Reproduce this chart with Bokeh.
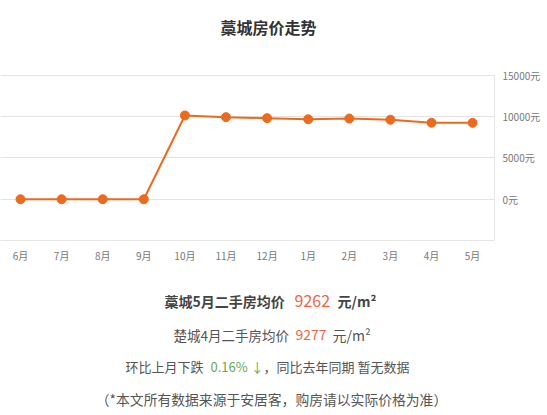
from bokeh.plotting import figure
from bokeh.layouts import column
from bokeh.models import Range1d, FixedTicker
from bokeh.core.properties import value
from bokeh.embed import file_html
from bokeh.resources import INLINE

months = ["6月", "7月", "8月", "9月", "10月", "11月", "12月", "1月", "2月", "3月", "4月", "5月"]
prices = [0, 0, 0, 0, 10150, 9950, 9830, 9700, 9780, 9640, 9277, 9262]
y_ticks = [-5000, 0, 5000, 10000, 15000]
y_tick_labels = ["", "0元", "5000元", "10000元", "15000元"]

title = "藁城房价走势"
current_text = ["藁城5月二手房均价", "9262", "元/m²"]
previous_text = ["楚城4月二手房均价", "9277", "元/m²"]
change_text = ["环比上月下跌", "0.16% ↓", "，同比去年同期 暂无数据"]
note_text = "（*本文所有数据来源于安居客，购房请以实际价格为准）"

FONT = "Noto Sans CJK SC"
ORANGE = "#ec6a1e"
RED = "#f0653f"
GREEN = "#6aa84f"
GREY = "#555555"
FRAME_W = 494
RIGHT = 53


def text_panel(height, top):
    # a blank figure whose data units are page pixels
    f = figure(frame_width=FRAME_W, frame_height=height, x_range=Range1d(0, FRAME_W),
               y_range=Range1d(top + height, top), output_backend="svg",
               toolbar_location=None, min_border=0, min_border_right=RIGHT)
    f.axis.visible = False
    f.grid.visible = False
    f.outline_line_color = None
    return f


def add_text(f, px, py, text, color=GREY, size="14px", style="normal", align="left"):
    f.text(x=[px], y=[py], text=[text], text_color=color, text_font=value(FONT),
           text_font_size=size, text_font_style=style, text_align=align,
           text_baseline="middle")


# title
t = text_panel(55, 0)
add_text(t, 268, 26, title, color="#333333", size="16px", style="bold", align="center")

# chart
x = list(range(len(months)))
p = figure(frame_width=FRAME_W, frame_height=166,
           x_range=Range1d(-0.487, 11.533), y_range=Range1d(-5000, 15120),
           y_axis_location="right", output_backend="svg", toolbar_location=None,
           min_border_left=0, min_border_right=RIGHT, min_border_top=19, min_border_bottom=30)
p.outline_line_color = None

p.xgrid.visible = False
p.ygrid.ticker = FixedTicker(ticks=y_ticks)
p.ygrid.grid_line_color = "#e3e3e3"

p.yaxis.ticker = FixedTicker(ticks=y_ticks)
p.yaxis.major_label_overrides = dict(zip(y_ticks, y_tick_labels))
p.yaxis.axis_line_color = "#e6e6e6"
p.yaxis.major_tick_line_color = None
p.yaxis.major_tick_out = 0
p.yaxis.minor_tick_line_color = None
p.yaxis.major_label_text_color = "#777777"
p.yaxis.major_label_text_font = FONT
p.yaxis.major_label_text_font_size = "10px"
p.yaxis.major_label_standoff = 8

p.xaxis.ticker = FixedTicker(ticks=x)
p.xaxis.major_label_overrides = dict(zip(x, months))
p.xaxis.axis_line_color = "#e6e6e6"
p.xaxis.major_tick_line_color = None
p.xaxis.major_tick_out = 0
p.xaxis.minor_tick_line_color = None
p.xaxis.major_label_text_color = "#777777"
p.xaxis.major_label_text_font = FONT
p.xaxis.major_label_text_font_size = "10px"
p.xaxis.major_label_standoff = 7

p.line(x, prices, line_color=ORANGE, line_width=2)
p.scatter(x, prices, size=9, fill_color=ORANGE, line_color=ORANGE)

# summary texts
s = text_panel(145, 270)
add_text(s, 164, 300, current_text[0], color="#444444", style="bold")
add_text(s, 294, 300, current_text[1], color=RED, size="16px")
add_text(s, 337, 300, current_text[2], color="#444444", style="bold")

add_text(s, 173, 334, previous_text[0], size="13.5px")
add_text(s, 295, 334, previous_text[1], color=RED)
add_text(s, 332, 334, previous_text[2])

add_text(s, 125, 366, change_text[0], size="13px")
add_text(s, 210, 366, change_text[1], color=GREEN, size="13px")
add_text(s, 263, 366, change_text[2], size="13px")

add_text(s, 271, 398, note_text, size="13.8px", align="center")

layout = column(t, p, s, spacing=0)
open("out.html", "w").write(file_html(layout, INLINE))
